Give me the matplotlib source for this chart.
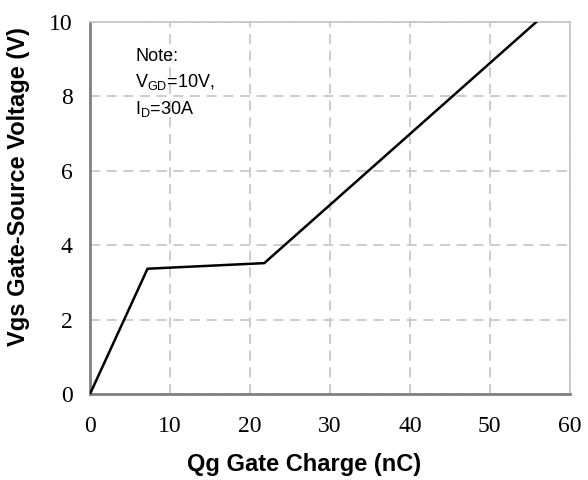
import numpy as np
import matplotlib
matplotlib.use('Agg')
import matplotlib.pyplot as plt

# gate charge curve
qg = np.array([0.0, 7.2, 21.8, 55.8])
vgs = np.array([0.0, 3.37, 3.52, 10.0])

xticks = [0, 10, 20, 30, 40, 50, 60]
yticks = [0, 2, 4, 6, 8, 10]

fig = plt.figure(figsize=(5.88, 4.8), dpi=100)
ax = fig.add_axes([0.153, 0.179, 0.816, 0.775])

ax.plot(qg, vgs, color='black', linewidth=1.8, zorder=3)

ax.set_xlim(0, 60)
ax.set_ylim(0, 10)
ax.set_xticks(xticks)
ax.set_yticks(yticks)
ax.grid(True, color='#c4c4c4', linestyle=(0, (6, 4)), linewidth=1.2)
ax.tick_params(axis='x', length=0, pad=16)
ax.tick_params(axis='y', length=0, pad=12.5)
for lab in ax.get_xticklabels() + ax.get_yticklabels():
    lab.set_fontfamily('Liberation Serif')
    lab.set_fontsize(17)

for s in ['left', 'bottom']:
    ax.spines[s].set_color('#808080')
    ax.spines[s].set_linewidth(2)
for s in ['top', 'right']:
    ax.spines[s].set_color('#c4c4c4')
    ax.spines[s].set_linewidth(1.2)

ax.set_xlabel('Qg Gate Charge (nC)', fontfamily='Liberation Sans', fontweight='bold', fontsize=17)
ax.set_ylabel('Vgs Gate-Source Voltage (V)', fontfamily='Liberation Sans', fontweight='bold', fontsize=17)
ax.xaxis.set_label_coords(0.447, -0.158)
ax.yaxis.set_label_coords(-0.126, 0.559)

note = 'Note:\nV$_{\\mathregular{GD}}$=10V,\nI$_{\\mathregular{D}}$=30A'
ax.text(0.094, 0.93, note, transform=ax.transAxes, va='top', ha='left',
        fontfamily='Liberation Sans', fontsize=13, linespacing=1.45)

fig.savefig('out.png', dpi=100)
